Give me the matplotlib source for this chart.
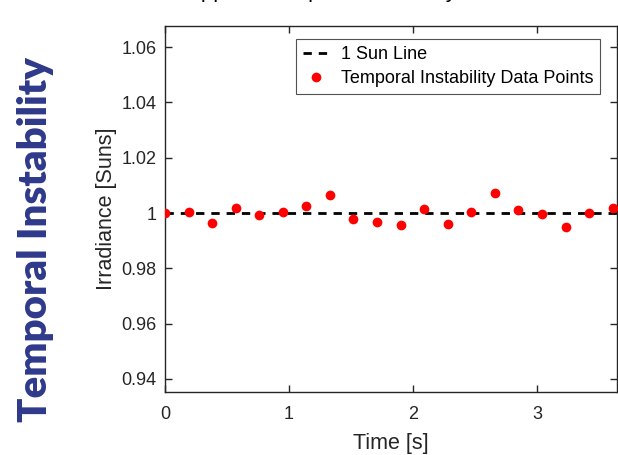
import numpy as np
import matplotlib
matplotlib.use("Agg")
import matplotlib.pyplot as plt

# Data
time_s = [0.0, 0.19, 0.38, 0.57, 0.76, 0.95, 1.14, 1.33, 1.52, 1.71,
          1.90, 2.09, 2.28, 2.47, 2.66, 2.85, 3.04, 3.23, 3.42, 3.61]
irradiance = [1.0000, 1.0002, 0.9964, 1.0019, 0.9994, 1.0002, 1.0025, 1.0064, 0.9978, 0.9969,
              0.9957, 1.0013, 0.9960, 1.0002, 1.0072, 1.0010, 0.9995, 0.9948, 0.9999, 1.0018]
sun_level = 1.0

x_ticks = [0, 1, 2, 3]
y_ticks = [0.94, 0.96, 0.98, 1.00, 1.02, 1.04, 1.06]
y_tick_labels = ["0.94", "0.96", "0.98", "1", "1.02", "1.04", "1.06"]

plt.rcParams['font.family'] = ['Liberation Sans', 'DejaVu Sans']
axis_color = '#262626'

fig = plt.figure(figsize=(6.18, 4.55), dpi=100)
ax = fig.add_axes([165 / 618, 1 - 392 / 455, 452 / 618, 366 / 455])

ax.axhline(sun_level, color='black', lw=2, dashes=(3, 2.5), label='1 Sun Line', zorder=2)
ax.plot(time_s, irradiance, 'o', color='red', markersize=7, markeredgewidth=0,
        label='Temporal Instability Data Points', zorder=3)

ax.set_xlim(0, 3.645)
ax.set_ylim(0.9353, 1.0676)
ax.set_xticks(x_ticks)
ax.set_yticks(y_ticks)
ax.set_yticklabels(y_tick_labels)
ax.tick_params(direction='in', top=True, right=True, length=5, width=1,
               colors=axis_color, labelsize=13)
ax.tick_params(axis='x', pad=10)
ax.tick_params(axis='y', pad=6)
for s in ax.spines.values():
    s.set_color(axis_color)
    s.set_linewidth(1)

ax.set_xlabel('Time [s]', fontsize=15.5, color=axis_color, labelpad=7)
ax.set_ylabel('Irradiance [Suns]', fontsize=15.5, color=axis_color, labelpad=3)

leg = ax.legend(loc='upper right', bbox_to_anchor=(600 / 618, 1 - 39 / 455),
                bbox_transform=fig.transFigure, fontsize=13, frameon=True,
                fancybox=False, handlelength=1.45, borderpad=0.38, labelspacing=0.42,
                handletextpad=0.65, borderaxespad=0)
leg.get_frame().set_edgecolor(axis_color)
leg.get_frame().set_linewidth(0.8)

# side heading
fig.text(36 / 618, 1 - 240 / 455, 'Temporal Instability', rotation=90,
         fontsize=29, fontweight='heavy', family=['Lato', 'DejaVu Sans'],
         color='#2E3A8A', ha='center', va='center')

# title cut off by the top edge
fig.text(186 / 618, 1 + 3.5 / 455, 'Applied Temporal Instability', fontsize=16,
         color='black', ha='left', va='baseline')

fig.savefig('out.png', dpi=100)
